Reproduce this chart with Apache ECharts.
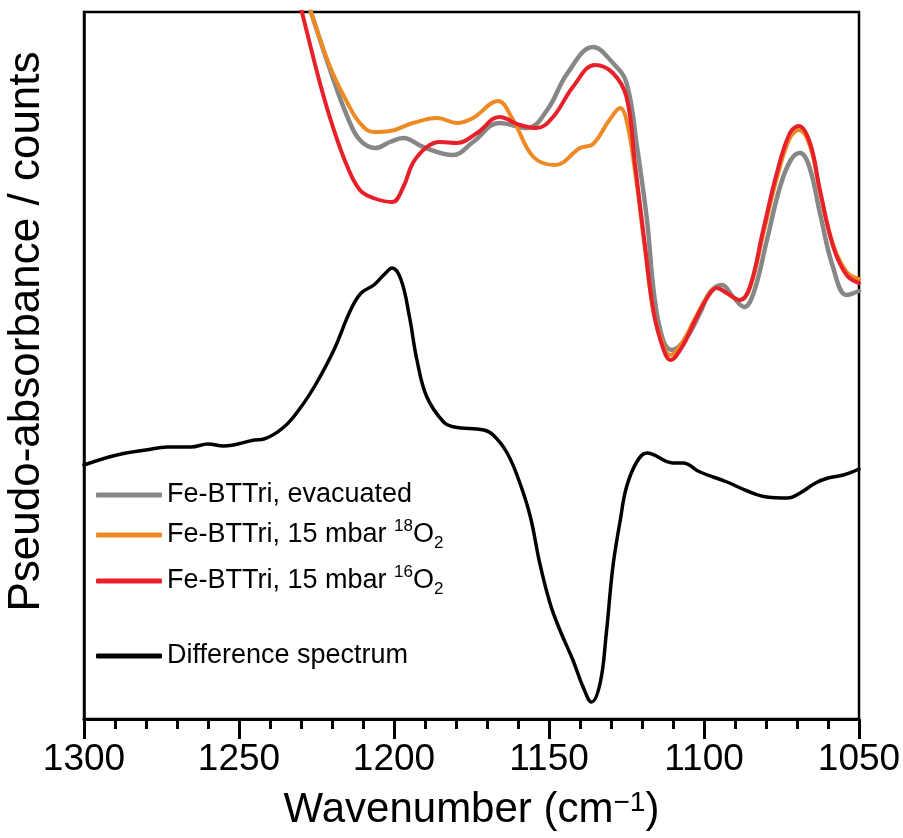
<!DOCTYPE html>
<html>
<head>
<meta charset="utf-8">
<script src="https://cdn.jsdelivr.net/npm/echarts@6/dist/echarts.min.js"></script>
<style>
html,body{margin:0;padding:0;background:#fff;}
#chart{width:903px;height:838px;}
</style>
</head>
<body>
<div id="chart"></div>
<script>
// Wavenumber (cm-1), pseudo-absorbance (arbitrary offset counts)
const evacuated = [
  [1230,737],[1226.8,707],[1220.6,649],[1215,602],[1211,579],[1206,571],[1201.3,577],[1197,581],
  [1190.6,572],[1181,564],[1174.5,577],[1166,596],[1157,591],[1150.6,609],[1144,646],[1135.8,672],
  [1129.4,656],[1125,636],[1121.6,572],[1118.4,499],[1116,422],[1113.2,379],[1110.3,369],[1105.5,382],
  [1101.3,406],[1098,427],[1094.2,434],[1090.6,422],[1087,412],[1084,426],[1079.7,479],[1075.5,532],
  [1072,559],[1069,566],[1066,552],[1062.6,506],[1058.4,452],[1054,424],[1050,428]
];
const o18 = [
  [1230,737],[1226.8,707],[1220.6,652],[1215,616],[1211,596],[1206.7,587],[1201.3,588],[1193.9,596],
  [1186,601],[1179.7,596],[1174.5,601],[1166.5,618],[1161.6,599],[1155,562],[1148,554],[1140,571],
  [1135.8,575],[1130.5,599],[1127,611],[1125,599],[1122.3,549],[1119,469],[1116.2,406],[1113,372],
  [1110.9,364],[1107.1,376],[1102.8,401],[1098.8,423],[1095.9,431],[1092.7,426],[1088.4,419],[1085.2,431],
  [1080.9,485],[1076.5,541],[1072.3,581],[1069.4,589],[1065.8,573],[1062.6,527],[1058.3,474],[1054,447],[1050,440]
];
const o16 = [
  [1232.3,739],[1229.7,707],[1223.9,636],[1219.7,592],[1215,552],[1211,529],[1206.7,521],[1200.6,517],
  [1197,532],[1193.9,556],[1189.4,572],[1185.2,577],[1179.7,576],[1173.2,586],[1166,602],[1159.4,594],
  [1154,591],[1148.7,602],[1142.3,632],[1135.2,654],[1129.4,646],[1125,622],[1122.3,556],[1119,472],
  [1116.2,406],[1113,369],[1110.9,359],[1107.1,372],[1102.8,399],[1098.8,422],[1095.9,431],[1092.7,426],
  [1088.4,419],[1085.2,432],[1080.9,489],[1076.5,546],[1072.3,586],[1069.4,593],[1065.8,576],[1062.6,529],
  [1058.3,472],[1054,444],[1050,436]
];
const difference = [
  [1300,254],[1289.4,264],[1280,269],[1273,272],[1265.5,272],[1260,275],[1255,273],[1245,279],[1242,280],
  [1235.5,292],[1230,312],[1225,336],[1219.4,369],[1214,409],[1210.6,426],[1206.5,434],[1203,445],[1200.6,451],
  [1197.7,439],[1195,402],[1192.6,359],[1189.4,322],[1184,297],[1180.6,292],[1171,289],[1168,284],[1163.5,266],
  [1159.4,236],[1156,202],[1153,156],[1149.7,116],[1146.5,89],[1142.3,59],[1139,32],[1136.3,17],[1133.5,36],
  [1131.5,86],[1129.4,152],[1127,199],[1125,232],[1121.7,257],[1118.4,266],[1110,256],[1106.8,256],[1101.3,247],
  [1092.6,237],[1086,228],[1079.7,222],[1073,221],[1069,226],[1064,236],[1060,241],[1055,244],[1050,250]
];
const seriesNames = ['Fe-BTTri, evacuated','Fe-BTTri, 15 mbar 18O2','Fe-BTTri, 15 mbar 16O2','Difference spectrum'];
const legendLabels = {
  'Fe-BTTri, evacuated':'Fe-BTTri, evacuated',
  'Fe-BTTri, 15 mbar 18O2':'Fe-BTTri, 15 mbar {sup|18}O{sub|2}',
  'Fe-BTTri, 15 mbar 16O2':'Fe-BTTri, 15 mbar {sup|16}O{sub|2}',
  'Difference spectrum':'Difference spectrum'
};
const xTicks = [1300,1250,1200,1150,1100,1050];

const colors = ['#878787','#EE8A24','#E8202A','#000000'];
const widths = [4.5,4,4,3.5];
const datas = [evacuated,o18,o16,difference];
const legendRows = [495,535,581,656];
const FONT = '"Liberation Sans", Arial, Helvetica, sans-serif';

const chart = echarts.init(document.getElementById('chart'), null, {renderer:'canvas'});
const legendRich = {
  sup:{fontSize:17,lineHeight:17,verticalAlign:'top',fontFamily:FONT,color:'#000'},
  sub:{fontSize:17,lineHeight:17,verticalAlign:'bottom',fontFamily:FONT,color:'#000'}
};
chart.setOption({
  animation:false,
  backgroundColor:'#fff',
  grid:{left:84,right:44,top:12,bottom:119,containLabel:false,outerBoundsMode:'none',
    show:true,borderColor:'#000',borderWidth:2.5,backgroundColor:'transparent'},
  legend: seriesNames.map((n,i)=>({
    data:[{name:n,icon:'roundRect',itemStyle:{color:colors[i]}}],
    left:96, top:legendRows[i]-17, padding:0,
    itemWidth:66, itemHeight:5,
    selectedMode:false,
    formatter:(name)=>legendLabels[name],
    textStyle:{fontSize:27,lineHeight:34,fontFamily:FONT,color:'#000',rich:legendRich}
  })),
  xAxis:{
    type:'value', inverse:true, min:1050, max:1300, interval:50,
    name:'Wavenumber (cm{sup|−1})', nameLocation:'middle', nameGap:70, nameMoveOverlap:false,
    nameTextStyle:{fontSize:42,fontFamily:FONT,color:'#000',lineHeight:42,
      rich:{sup:{fontSize:28,lineHeight:26,verticalAlign:'top',fontFamily:FONT,color:'#000'}}},
    axisLine:{show:true,onZero:false,lineStyle:{color:'#000',width:3}},
    axisTick:{show:true,inside:false,length:20,lineStyle:{color:'#000',width:3}},
    minorTick:{show:true,splitNumber:5,length:10,lineStyle:{color:'#000',width:3}},
    axisLabel:{fontSize:37,fontFamily:FONT,color:'#000',margin:22,
      formatter:(v)=> xTicks.includes(v) ? String(v) : ''},
    splitLine:{show:false}
  },
  yAxis:{
    type:'value', min:0, max:707,
    name:'Pseudo-absorbance / counts', nameLocation:'middle', nameGap:35, nameMoveOverlap:false,
    nameTextStyle:{fontSize:44,fontFamily:FONT,color:'#000',verticalAlign:'bottom',padding:[0,0,0,68]},
    axisLine:{show:true,lineStyle:{color:'#000',width:2.5}},
    axisTick:{show:false}, axisLabel:{show:false}, splitLine:{show:false}
  },
  series: seriesNames.map((n,i)=>({
    name:n, type:'line', data:datas[i], showSymbol:false, symbol:'none',
    smooth:0.4, clip:true,
    itemStyle:{color:colors[i]},
    lineStyle:{color:colors[i],width:widths[i],cap:'round',join:'round'},
    z:2+i
  }))
});
</script>
</body>
</html>
